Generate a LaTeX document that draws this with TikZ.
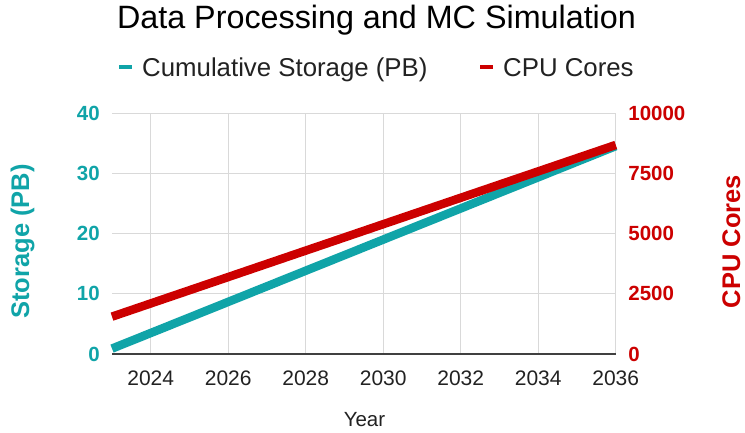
\documentclass[tikz,border=0pt]{standalone}
\usepackage{fontspec}
\setmainfont{Liberation Sans}
\usepackage{tikz}
\usetikzlibrary{positioning}
\definecolor{storteal}{HTML}{10A4A8}
\definecolor{cpured}{HTML}{CC0000}
\definecolor{gridgray}{HTML}{D9D9D9}
\definecolor{axisgray}{HTML}{404040}
\definecolor{textgray}{HTML}{222222}
\tikzstyle{gridline} = [gridgray, line width=1pt]
\tikzstyle{series} = [line width=8.5pt, line cap=butt]
\tikzstyle{legdash} = [line width=4.5pt]
\tikzstyle{xtick} = [anchor=base, inner sep=0pt, text=textgray, font=\fontsize{21}{21}\selectfont]
\tikzstyle{ltick} = [anchor=east, inner sep=0pt, text=storteal, font=\fontsize{20.5}{20.5}\selectfont\bfseries]
\tikzstyle{rtick} = [anchor=west, inner sep=0pt, text=cpured, font=\fontsize{20.5}{20.5}\selectfont\bfseries]
\tikzstyle{axtitle} = [anchor=base, rotate=90, inner sep=0pt, font=\fontsize{25.5}{25.5}\selectfont\bfseries]
\tikzstyle{legtext} = [anchor=base west, inner sep=0pt, text=textgray, font=\fontsize{25.8}{25.8}\selectfont]

\begin{document}
\begin{tikzpicture}[x=1pt, y=1pt]
  \fill[white] (0,0) rectangle (745,-432);
  \useasboundingbox (0,0) rectangle (745,-432);

  % Title and legend
  \node[anchor=base, inner sep=0pt, font=\fontsize{32.3}{32.3}\selectfont] (title) at (376.5,-28.5) {Data Processing and MC Simulation};
  \node[legtext] (legstore) at (142,-76) {Cumulative Storage (PB)};
  \node[legtext] (legcpu) at (503,-76) {CPU Cores};
  \draw[legdash, storteal] (119,-67) -- (132,-67);
  \draw[legdash, cpured] (480,-67) -- (493,-67);

  % Plot area: x in years from 2023, y in PB
  \begin{scope}[shift={(112,-354)}, x=38.75pt, y=6.025pt]
    \foreach \val in {10,20,30,40}
      \draw[gridline] (0,\val) -- (13,\val);
    \foreach \yy in {1,3,...,13}
      \draw[gridline] (\yy,0) -- (\yy,40);
    \draw[axisgray, line width=1.2pt] (0,0) -- (13,0);

    % Year labels
    \foreach \yy [evaluate=\yy as \yrlab using int(2023+\yy)] in {1,3,...,13}
      \node[xtick] (yr\yrlab) at (\yy,-5.3) {\yrlab};

    % Storage and CPU tick labels
    \foreach \val [evaluate=\val as \cores using int(\val*250)] in {0,10,...,40} {
      \node[ltick] (st\val) at (-0.31,\val) {\val};
      \node[rtick] (cpu\val) at (13.32,\val) {\cores};
    }

    % Data lines
    \draw[series, storteal] (0,0.9) -- (13,34.5);
    \draw[series, cpured] (0,6.2) -- (13,34.7);
  \end{scope}

  % Axis titles
  \node[axtitle, text=storteal] (stortitle) at (29,-241.5) {Storage (PB)};
  \node[axtitle, text=cpured] (cputitle) at (740,-241.5) {CPU Cores};
  \node[anchor=base, inner sep=0pt, text=textgray, font=\fontsize{20.5}{20.5}\selectfont] (yeartitle) at (364.5,-426.5) {Year};
\end{tikzpicture}
\end{document}
